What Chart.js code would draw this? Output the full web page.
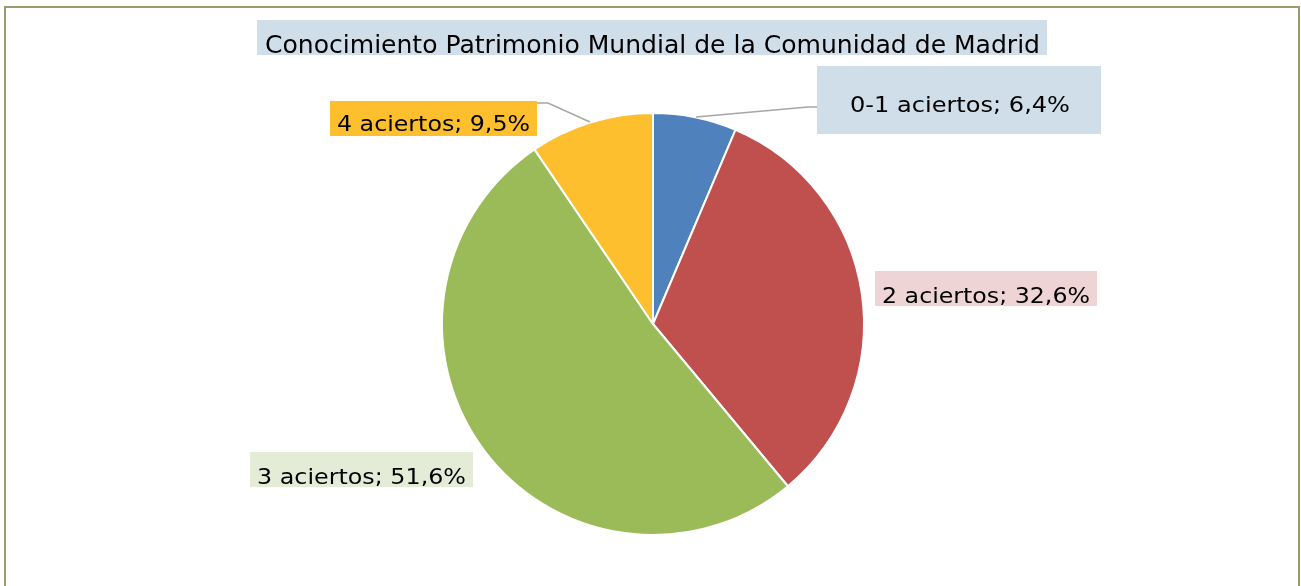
<!DOCTYPE html>
<html><head><meta charset="utf-8">
<script src="https://cdn.jsdelivr.net/npm/chart.js@4/dist/chart.umd.min.js"></script>
<style>html,body{margin:0;padding:0;background:#fff;}#wrap{width:1301px;height:586px;position:relative;}</style>
</head><body><div id="wrap"><canvas id="c" width="1301" height="586"></canvas></div>
<script>
const chartTitle = "Conocimiento Patrimonio Mundial de la Comunidad de Madrid";
const categories = ["0-1 aciertos", "2 aciertos", "3 aciertos", "4 aciertos"];
const values = [6.4, 32.6, 51.6, 9.5];
const sliceColors = ["#4F81BD", "#C0504D", "#9BBB59", "#FDBF2D"];
const labelFills = ["#D0DEEA", "#EED4D4", "#E4ECD8", "#FDBF2D"];
// label box layout: [x, y, w, h, textX, textBaseline, textW, fontPx]
const labelBoxes = [
  [817, 66, 284, 68, 850, 112, 220, 20.5],
  [875, 271, 222, 35, 882, 303, 208, 22],
  [250, 452, 223, 35, 257, 484, 209, 22],
  [330, 101, 207, 35, 337, 131, 193, 21]
];
const leaders = {
  0: [[817, 107], [808, 107], [696, 117]],
  3: [[537, 103], [548, 103], [590, 122]]
};
function fmt(v){ return v.toFixed(1).replace('.', ','); }
function fitText(ctx, txt, x, y, w, px){
  ctx.font = px + 'px "DejaVu Sans", Verdana, sans-serif';
  const m = ctx.measureText(txt).width;
  ctx.save();
  ctx.translate(x, y);
  ctx.scale(w / m, 1);
  ctx.fillText(txt, 0, 0);
  ctx.restore();
}

const deco = {
  id: 'deco',
  afterDraw(chart){
    const ctx = chart.ctx;
    ctx.save();
    ctx.strokeStyle = '#9D9B6E';
    ctx.lineWidth = 2;
    ctx.beginPath();
    ctx.moveTo(5, 590); ctx.lineTo(5, 7); ctx.lineTo(1299, 7); ctx.lineTo(1299, 590);
    ctx.stroke();
    ctx.fillStyle = '#D0DEEA';
    ctx.fillRect(257, 20, 790, 35);
    ctx.fillStyle = '#000';
    ctx.textBaseline = 'alphabetic';
    ctx.textAlign = 'left';
    fitText(ctx, chartTitle, 265, 53, 775, 24);
    ctx.strokeStyle = '#A6A6A6';
    ctx.lineWidth = 1.5;
    Object.keys(leaders).forEach(k => {
      const pts = leaders[k];
      ctx.beginPath();
      ctx.moveTo(pts[0][0], pts[0][1]);
      for (let i = 1; i < pts.length; i++) ctx.lineTo(pts[i][0], pts[i][1]);
      ctx.stroke();
    });
    categories.forEach((c, i) => {
      const b = labelBoxes[i];
      ctx.fillStyle = labelFills[i];
      ctx.fillRect(b[0], b[1], b[2], b[3]);
      ctx.fillStyle = '#000';
      fitText(ctx, c + '; ' + fmt(values[i]) + '%', b[4], b[5], b[6], b[7]);
    });
    ctx.restore();
  }
};

new Chart(document.getElementById('c'), {
  type: 'pie',
  data: {
    labels: categories,
    datasets: [{
      data: values,
      backgroundColor: sliceColors,
      borderColor: '#FFFFFF',
      borderWidth: 2
    }]
  },
  options: {
    responsive: false,
    animation: false,
    layout: { padding: { left: 441, right: 436, top: 112, bottom: 50 } },
    plugins: { legend: { display: false }, tooltip: { enabled: false }, title: { display: false } }
  },
  plugins: [deco]
});
</script>
</body></html>
